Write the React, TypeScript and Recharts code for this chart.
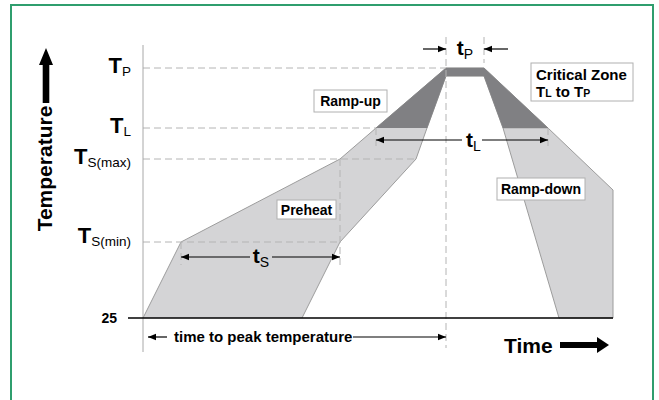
import React from 'react';
import { ComposedChart, Area, XAxis, YAxis, ReferenceLine, ReferenceDot } from 'recharts';

const FONT = '"Liberation Sans", Arial, Helvetica, sans-serif';

// Temperature levels (diagram units)
const T_AMB = 25;
const T_SMIN = 101;
const T_SMAX = 184;
const T_L = 215;
const T_P = 275;

// Light-grey profile envelope (outer edge then inner edge)
const profileTime = [0, 38, 197, 233, 303, 341, 405, 470, 470, 416, 360, 341, 303, 284, 273, 197, 159];
const profileTemp = [25, 101, 184, 215, 275, 275, 215, 153, 25, 25, 215, 267, 267, 215, 184, 101, 25];

// Dark critical zone (above T_L)
const criticalTime = [233, 303, 341, 405, 360, 341, 303, 284];
const criticalTemp = [215, 275, 275, 215, 215, 267, 267, 215];

// Level labels
const levelSubs = ['P', 'L', 'S(max)', 'S(min)'];
const levelValues = [T_P, T_L, T_SMAX, T_SMIN];
const levelDy = [5, 5, 5, 1];
const levelDashEnd = [303, 233, 273, 197];

// Time markers
const tsRange = [38, 197];
const tlRange = [233, 405];
const tpRange = [303, 341];

const profile = profileTime.map((t, i) => ({ t, temp: profileTemp[i] }));
const critical = criticalTime.map((t, i) => ({ t, temp: criticalTemp[i] }));

const X_DOMAIN: [number, number] = [-143, 516];
const Y_DOMAIN: [number, number] = [-57, 343];

const DASH = '7 4';
const DASH_COLOR = '#b4b4b4';

const headPts = (tx: number, ty: number, dx: number, dy: number, L = 8, w = 3.2) => {
  const bx = tx - dx * L;
  const by = ty - dy * L;
  return `${tx},${ty} ${bx - dy * w},${by + dx * w} ${bx + dy * w},${by - dx * w}`;
};

const arrowShape = (start: boolean, end: boolean) => (p: any) => {
  const { x1, y1, x2, y2 } = p;
  const dx = x2 - x1;
  const dy = y2 - y1;
  const len = Math.hypot(dx, dy) || 1;
  const ux = dx / len;
  const uy = dy / len;
  return (
    <g>
      <line x1={x1} y1={y1} x2={x2} y2={y2} stroke="#000" strokeWidth={1.2} />
      {start && <polygon points={headPts(x1, y1, -ux, -uy)} fill="#000" />}
      {end && <polygon points={headPts(x2, y2, ux, uy)} fill="#000" />}
    </g>
  );
};

const levelLabel = (sub: string, dy: number) => (p: any) => (
  <text x={p.cx} y={p.cy + dy} textAnchor="end" fontFamily={FONT} fill="#000">
    <tspan fontSize={22} fontWeight="bold">T</tspan>
    <tspan fontSize={13.5} dy={3}>{sub}</tspan>
  </text>
);

const timeLabel = (sub: string, dy: number) => (p: any) => (
  <text x={p.cx} y={p.cy + dy} textAnchor="middle" fontFamily={FONT} fill="#000">
    <tspan fontSize={21} fontWeight="bold">t</tspan>
    <tspan fontSize={14} dy={4}>{sub}</tspan>
  </text>
);

const boxLabel = (text: string, w: number, h: number) => (p: any) => (
  <g>
    <rect x={p.cx - w / 2} y={p.cy - h / 2} width={w} height={h} fill="#fff" stroke="#b0b0b0" strokeWidth={1} />
    <text x={p.cx} y={p.cy + 5} textAnchor="middle" fontFamily={FONT} fontWeight="bold" fontSize={14} fill="#000">
      {text}
    </text>
  </g>
);

const criticalBox = (p: any) => (
  <g>
    <rect x={p.cx - 51} y={p.cy - 19} width={102} height={38} fill="#fff" stroke="#b0b0b0" strokeWidth={1} />
    <text x={p.cx - 46} y={p.cy - 2} fontFamily={FONT} fontWeight="bold" fontSize={15} fill="#000">Critical Zone</text>
    <text x={p.cx - 46} y={p.cy + 15} fontFamily={FONT} fontWeight="bold" fontSize={15} fill="#000">
      <tspan>T</tspan>
      <tspan fontSize={10.5}>L</tspan>
      <tspan> to T</tspan>
      <tspan fontSize={10.5}>P</tspan>
    </text>
  </g>
);

const tempAxisLabel = (p: any) => (
  <g>
    <text
      x={p.cx}
      y={p.cy}
      transform={`rotate(-90, ${p.cx}, ${p.cy})`}
      textAnchor="middle"
      fontFamily={FONT}
      fontWeight="bold"
      fontSize={21}
      fill="#000"
    >
      Temperature
    </text>
  </g>
);

const upArrow = (p: any) => {
  const x = p.cx;
  const y = p.cy;
  return (
    <polygon
      points={`${x},${y} ${x + 7},${y + 17} ${x + 3.3},${y + 17} ${x + 3.3},${y + 55} ${x - 3.3},${y + 55} ${x - 3.3},${y + 17} ${x - 7},${y + 17}`}
      fill="#000"
    />
  );
};

const rightArrow = (p: any) => {
  const x = p.cx;
  const y = p.cy;
  return (
    <polygon
      points={`${x},${y} ${x - 12},${y - 8} ${x - 12},${y - 3} ${x - 49},${y - 3} ${x - 49},${y + 3} ${x - 12},${y + 3} ${x - 12},${y + 8}`}
      fill="#000"
    />
  );
};

const plainText = (text: string, size: number, anchor: string, dy: number) => (p: any) => (
  <text x={p.cx} y={p.cy + dy} textAnchor={anchor as any} fontFamily={FONT} fontWeight="bold" fontSize={size} fill="#000">
    {text}
  </text>
);

export default function App() {
  return (
    <div style={{ position: 'absolute', left: 0, top: 0, width: 659, height: 400, overflow: 'hidden', background: '#fff' }}>
      <div
        style={{
          position: 'absolute',
          left: 10,
          top: 4,
          width: 644,
          height: 430,
          border: '2px solid #2f9e6e',
          boxSizing: 'border-box',
        }}
      />
      <div style={{ position: 'absolute', left: 0, top: 0 }}>
        <ComposedChart width={659} height={400} margin={{ top: 0, right: 0, bottom: 0, left: 0 }}>
          <XAxis type="number" dataKey="t" domain={X_DOMAIN} hide allowDataOverflow />
          <YAxis type="number" dataKey="temp" domain={Y_DOMAIN} hide allowDataOverflow />

          <Area
            data={profile}
            type="linear"
            dataKey="temp"
            baseValue={T_AMB}
            fill="#d4d4d6"
            fillOpacity={1}
            stroke="#9c9c9c"
            strokeWidth={1}
            dot={false}
            activeDot={false}
            isAnimationActive={false}
          />
          <Area
            data={critical}
            type="linear"
            dataKey="temp"
            baseValue={T_L}
            fill="#808083"
            fillOpacity={1}
            stroke="#808083"
            strokeWidth={0.5}
            dot={false}
            activeDot={false}
            isAnimationActive={false}
          />

          {/* horizontal dashed level lines */}
          {levelValues.map((v, i) => (
            <ReferenceLine
              key={`lvl${i}`}
              segment={[{ x: 0, y: v }, { x: levelDashEnd[i], y: v }]}
              stroke={DASH_COLOR}
              strokeDasharray={DASH}
              strokeWidth={1}
            />
          ))}

          {/* vertical dashed guides */}
          <ReferenceLine segment={[{ x: tsRange[1], y: T_SMAX }, { x: tsRange[1], y: 78 }]} stroke={DASH_COLOR} strokeDasharray={DASH} />
          <ReferenceLine segment={[{ x: tsRange[0], y: T_SMIN }, { x: tsRange[0], y: 78 }]} stroke={DASH_COLOR} strokeDasharray={DASH} />
          <ReferenceLine segment={[{ x: tlRange[0], y: T_L }, { x: tlRange[0], y: 193 }]} stroke={DASH_COLOR} strokeDasharray={DASH} />
          <ReferenceLine segment={[{ x: tlRange[1], y: T_L }, { x: tlRange[1], y: 193 }]} stroke={DASH_COLOR} strokeDasharray={DASH} />
          <ReferenceLine segment={[{ x: tpRange[0], y: 306 }, { x: tpRange[0], y: -5 }]} stroke={DASH_COLOR} strokeDasharray={DASH} />
          <ReferenceLine segment={[{ x: tpRange[1], y: 306 }, { x: tpRange[1], y: 280 }]} stroke={DASH_COLOR} strokeDasharray={DASH} />

          {/* axes */}
          <ReferenceLine segment={[{ x: 0, y: 298 }, { x: 0, y: -9 }]} stroke="#a8a8a8" strokeWidth={1} />
          <ReferenceLine segment={[{ x: -15, y: T_AMB }, { x: 470, y: T_AMB }]} stroke="#000" strokeWidth={1.5} />

          {/* tS arrows */}
          <ReferenceLine segment={[{ x: tsRange[0], y: 86 }, { x: 107, y: 86 }]} shape={arrowShape(true, false)} />
          <ReferenceLine segment={[{ x: 129, y: 86 }, { x: tsRange[1], y: 86 }]} shape={arrowShape(false, true)} />
          <ReferenceDot x={118} y={86} r={0} shape={timeLabel('S', 6)} />

          {/* tL arrows */}
          <ReferenceLine segment={[{ x: tlRange[0], y: 203 }, { x: 319, y: 203 }]} shape={arrowShape(true, false)} />
          <ReferenceLine segment={[{ x: 339, y: 203 }, { x: tlRange[1], y: 203 }]} shape={arrowShape(false, true)} />
          <ReferenceDot x={330.5} y={203} r={0} shape={timeLabel('L', 7)} />

          {/* tP arrows */}
          <ReferenceLine segment={[{ x: 280, y: 294 }, { x: tpRange[0], y: 294 }]} shape={arrowShape(false, true)} />
          <ReferenceLine segment={[{ x: 365, y: 294 }, { x: tpRange[1], y: 294 }]} shape={arrowShape(false, true)} />
          <ReferenceDot x={322} y={294} r={0} shape={timeLabel('P', 6)} />

          {/* time to peak */}
          <ReferenceLine segment={[{ x: 24, y: 6 }, { x: 5, y: 6 }]} shape={arrowShape(false, true)} />
          <ReferenceLine segment={[{ x: 210, y: 6 }, { x: tpRange[0], y: 6 }]} shape={arrowShape(false, true)} />
          <ReferenceDot x={31} y={6} r={0} shape={plainText('time to peak temperature', 15, 'start', 5)} />

          {/* level labels */}
          {levelValues.map((v, i) => (
            <ReferenceDot key={`lab${i}`} x={-12} y={v} r={0} shape={levelLabel(levelSubs[i], levelDy[i])} />
          ))}
          <ReferenceDot x={-26} y={T_AMB} r={0} shape={plainText('25', 14, 'end', 5)} />

          {/* boxes */}
          <ReferenceDot x={207.5} y={242} r={0} shape={boxLabel('Ramp-up', 73, 22)} />
          <ReferenceDot x={163.5} y={133.5} r={0} shape={boxLabel('Preheat', 59, 19)} />
          <ReferenceDot x={398} y={154} r={0} shape={boxLabel('Ramp-down', 88, 22)} />
          <ReferenceDot x={439} y={261} r={0} shape={criticalBox} />

          {/* axis titles */}
          <ReferenceDot x={-91} y={174.5} r={0} shape={tempAxisLabel} />
          <ReferenceDot x={-97} y={295} r={0} shape={upArrow} />
          <ReferenceDot x={361} y={-10} r={0} shape={plainText('Time', 21, 'start', 0)} />
          <ReferenceDot x={466} y={-2} r={0} shape={rightArrow} />
        </ComposedChart>
      </div>
    </div>
  );
}
